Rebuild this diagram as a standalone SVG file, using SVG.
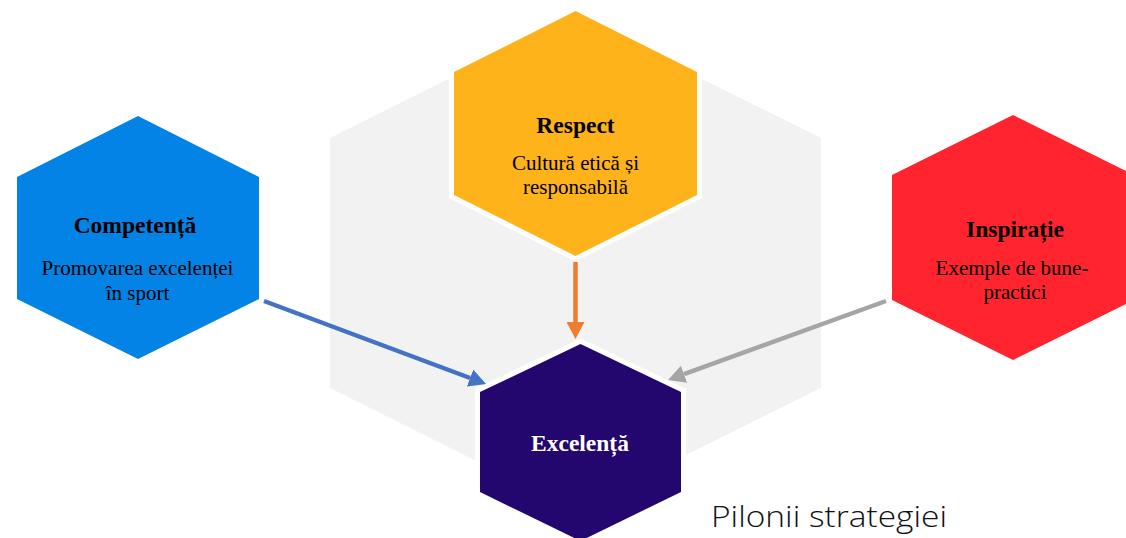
<svg xmlns="http://www.w3.org/2000/svg" width="1126" height="538" viewBox="0 0 1126 538">
<style>
.t{font-family:"Liberation Serif","Times New Roman",serif;text-anchor:middle;fill:#000}
.b{font-weight:bold;font-size:23.5px}
.s{font-size:21px}
.ol{stroke:#fff;stroke-width:10;paint-order:stroke;stroke-linejoin:miter}
.c{fill:none;stroke-width:4.5}
</style>
<defs>
<marker id="mb" markerUnits="userSpaceOnUse" markerWidth="18" markerHeight="18" refX="0" refY="9" orient="auto" viewBox="0 0 18 18"><path d="M0,0 L17,9 L0,18 Z" fill="#4472C4"/></marker>
<marker id="mo" markerUnits="userSpaceOnUse" markerWidth="18" markerHeight="18" refX="0" refY="9" orient="auto" viewBox="0 0 18 18"><path d="M0,0 L17,9 L0,18 Z" fill="#ED7D31"/></marker>
<marker id="mg" markerUnits="userSpaceOnUse" markerWidth="18" markerHeight="18" refX="0" refY="9" orient="auto" viewBox="0 0 18 18"><path d="M0,0 L17,9 L0,18 Z" fill="#A5A5A5"/></marker>
</defs>
<rect width="1126" height="538" fill="#fff"/>
<g id="background">
<polygon points="575,16 821,138 821,388 575,510 330,388 330,138" fill="#F2F2F2"/>
</g>
<g id="respect">
<polygon class="ol" points="575.5,11 697,72 697,195 575.5,256 454,195 454,72" fill="#FEB31B"/>
<text class="t b" x="575.5" y="133">Respect</text>
<text class="t s" x="575.5" y="170">Cultură etică și</text>
<text class="t s" x="575.5" y="194">responsabilă</text>
</g>
<g id="competenta">
<polygon points="138,116 259,177 259,299 138,359 17,299 17,177" fill="#0383E5"/>
<text class="t b" x="135" y="233">Competență</text>
<text class="t s" x="137.5" y="275">Promovarea excelenței</text>
<text class="t s" x="137.5" y="300">în sport</text>
</g>
<g id="inspiratie">
<polygon points="1013,115 1134,175 1134,300 1013,360 892,300 892,175" fill="#FF242D"/>
<text class="t b" x="1015" y="237">Inspirație</text>
<text class="t s" x="1012" y="275">Exemple de bune-</text>
<text class="t s" x="1015" y="299">practici</text>
</g>
<g id="excelenta">
<polygon class="ol" points="580.5,344 681,392 681,492 580.5,541 480,492 480,392" fill="#23066E"/>
<text class="t b" x="580" y="451" style="fill:#fff">Excelență</text>
</g>
<g id="connectors">
<line class="c" x1="264" y1="301" x2="470.1" y2="378" stroke="#4472C4" marker-end="url(#mb)"/>
<line class="c" x1="575.5" y1="262" x2="575.5" y2="322" stroke="#ED7D31" marker-end="url(#mo)"/>
<line class="c" x1="886" y1="301" x2="684" y2="374.2" stroke="#A5A5A5" marker-end="url(#mg)"/>
</g>
<g id="title">
<text x="711" y="527" font-family="'Open Sans','Noto Sans',sans-serif" font-weight="300" font-size="29" textLength="236" lengthAdjust="spacingAndGlyphs" fill="#111">Pilonii strategiei</text>
</g>
</svg>
